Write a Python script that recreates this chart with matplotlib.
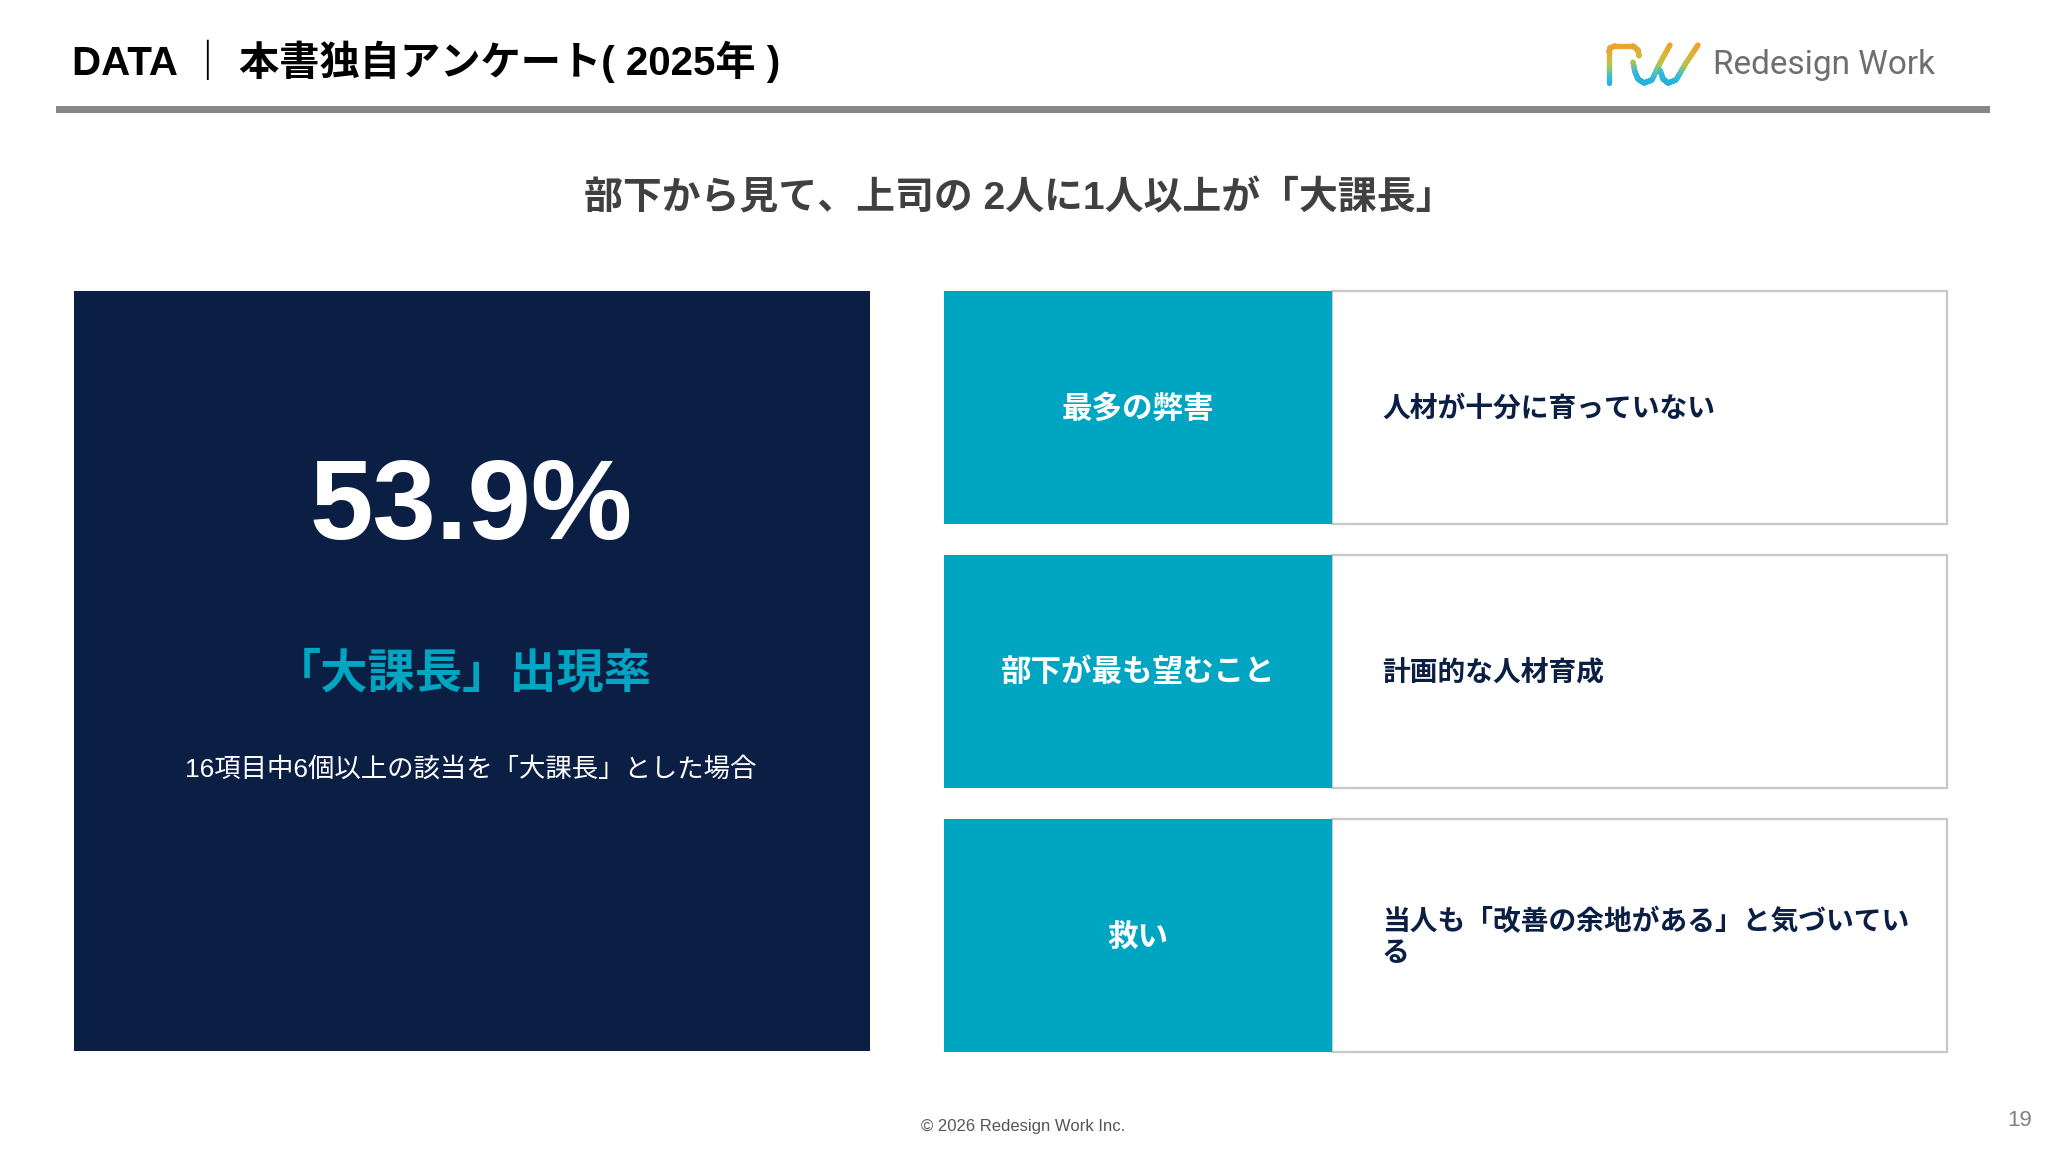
import numpy as np
import matplotlib
matplotlib.use("Agg")
import matplotlib.pyplot as plt
from matplotlib.patches import Rectangle
from matplotlib.collections import LineCollection

# slide content
page_title = "DATA ｜ 本書独自アンケート( 2025年 )"
headline = "部下から見て、上司の 2人に1人以上が「大課長」"
big_value = "53.9%"
big_label = "「大課長」出現率"
big_note = "16項目中6個以上の該当を「大課長」とした場合"
row_labels = ["最多の弊害", "部下が最も望むこと", "救い"]
row_values = ["人材が十分に育っていない", "計画的な人材育成", "当人も「改善の余地がある」と気づいてい\nる"]
footer = "© 2026 Redesign Work Inc."
page_no = "19"

NAVY = "#0b1f44"
TEAL = "#00a5c2"
JP = ["Liberation Sans", "Noto Sans CJK JP", "DejaVu Sans"]

W, H = 2048, 1152
fig = plt.figure(figsize=(W / 100, H / 100), dpi=100)
ax = fig.add_axes([0, 0, 1, 1])
ax.set_xlim(0, W)
ax.set_ylim(H, 0)
ax.axis("off")

# header
ax.text(72, 61, page_title, fontsize=29, fontweight="bold", family=JP,
        color="black", ha="left", va="center")
ax.add_patch(Rectangle((56, 106), 1934, 7, color="#878787", lw=0))

# logo mark, gradient from orange (top) to teal (bottom)
rw_cmap = matplotlib.colors.LinearSegmentedColormap.from_list(
    "rw", ["#f0a030", "#d8b838", "#a8c850", "#3cbcd8", "#22b0e0"])

def grad_line(xs, ys, lw=3.8):
    xs = np.asarray(xs, float)
    ys = np.asarray(ys, float)
    t = np.linspace(0, 1, 80)
    px = np.interp(t, np.linspace(0, 1, len(xs)), xs)
    py = np.interp(t, np.linspace(0, 1, len(ys)), ys)
    pts = np.column_stack([px, py]).reshape(-1, 1, 2)
    segs = np.concatenate([pts[:-1], pts[1:]], axis=1)
    yc = (py[:-1] + py[1:]) / 2
    ax.add_collection(LineCollection(segs, colors=rw_cmap((yc - 45) / 38),
                                     linewidths=lw, capstyle="round"))

grad_line([1609, 1609, 1610, 1615, 1633, 1638, 1639], [83, 52, 48, 46, 46, 50, 56])
grad_line([1633, 1635, 1638, 1644, 1652, 1660, 1670], [62, 72, 79, 83, 80, 63, 45])
grad_line([1660, 1663, 1668, 1676, 1686, 1698], [70, 79, 83, 80, 63, 45])
ax.text(1713, 65, "Redesign Work", fontsize=24, family="Roboto",
        color="#6e6e6e", ha="left", va="center")

# headline
ax.text(1019, 199, headline, fontsize=28, fontweight="bold", family=JP,
        color="#404040", ha="center", va="center")

# left big-number panel
ax.add_patch(Rectangle((74, 291), 796, 760, color=NAVY, lw=0))
cx = 471
ax.text(cx, 510, big_value, fontsize=82, fontweight="bold", family=JP,
        color="white", ha="center", va="center")
ax.text(cx - 8, 675, big_label, fontsize=34, fontweight="bold", family=JP,
        color=TEAL, ha="center", va="center")
ax.text(cx, 769, big_note, fontsize=19, family=JP,
        color="white", ha="center", va="center")

# right rows
row_top0, row_h, row_step = 291, 233, 264
lab_x0, lab_x1, box_x1 = 944, 1332, 1947
for i, (lab, val) in enumerate(zip(row_labels, row_values)):
    top = row_top0 + i * row_step
    ax.add_patch(Rectangle((lab_x1, top), box_x1 - lab_x1, row_h,
                           facecolor="white", edgecolor="#c8c8c8", lw=1.6))
    ax.add_patch(Rectangle((lab_x0, top), lab_x1 - lab_x0, row_h,
                           color=TEAL, lw=0))
    yc = top + row_h / 2 + 2
    ax.text((lab_x0 + lab_x1) / 2, yc, lab, fontsize=22, fontweight="bold",
            family=JP, color="white", ha="center", va="center")
    ax.text(1382, yc, val, fontsize=20, fontweight="bold", family=JP,
            color=NAVY, ha="left", va="center", multialignment="left",
            linespacing=1.25)

# footer
ax.text(1023, 1127, footer, fontsize=12, family=JP, color="#555555",
        ha="center", va="center")
ax.text(2020, 1121, page_no, fontsize=16, family=JP, color="#808080",
        ha="center", va="center")

fig.savefig("out.png", dpi=100, facecolor="white")
